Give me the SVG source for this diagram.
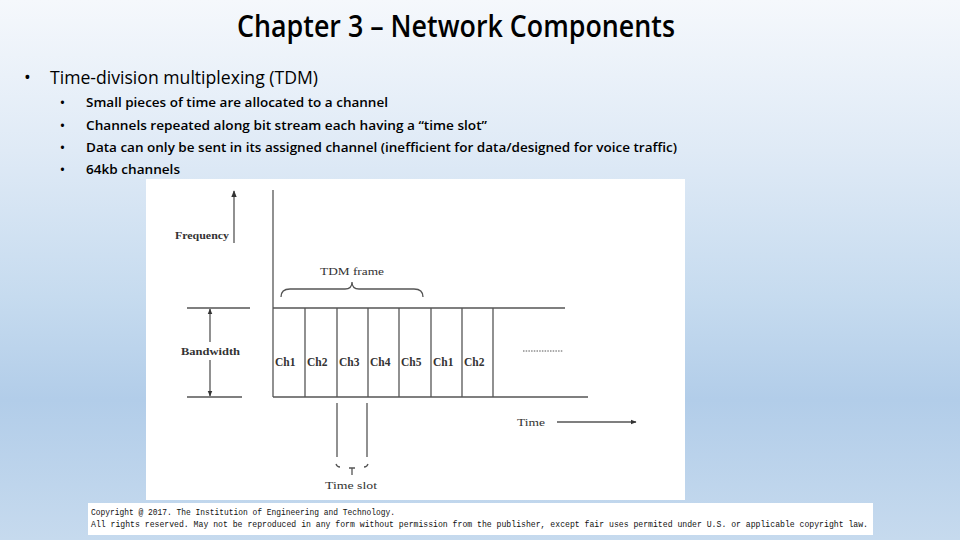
<svg xmlns="http://www.w3.org/2000/svg" width="960" height="540" viewBox="0 0 960 540">
<defs>
<linearGradient id="bg" x1="0" y1="0" x2="0" y2="1">
<stop offset="0" stop-color="#f5f8fc"/>
<stop offset="0.28" stop-color="#dfeaf6"/>
<stop offset="0.55" stop-color="#c6dbef"/>
<stop offset="0.74" stop-color="#b2cde9"/>
<stop offset="1" stop-color="#c6daee"/>
</linearGradient>
<marker id="ah" viewBox="0 0 10 10" refX="9" refY="5" markerWidth="7" markerHeight="7" markerUnits="userSpaceOnUse" orient="auto-start-reverse">
<path d="M0,1 L10,5 L0,9 z" fill="#333"/>
</marker>
<marker id="ahs" viewBox="0 0 10 10" refX="9" refY="5" markerWidth="6" markerHeight="6" markerUnits="userSpaceOnUse" orient="auto-start-reverse">
<path d="M0,1 L10,5 L0,9 z" fill="#333"/>
</marker>
<style>
.title{font-family:"Open Sans","Noto Sans",sans-serif;font-weight:600;font-size:30px;fill:#000}
.b1{font-family:"Open Sans","Noto Sans",sans-serif;font-size:18px;fill:#000}
.b2{font-family:"Open Sans","Noto Sans",sans-serif;font-weight:600;font-size:13px;fill:#000}
.lbl{font-family:"Liberation Serif","Times New Roman",serif;font-weight:bold;fill:#333}
.lbn{font-family:"Liberation Serif","Times New Roman",serif;font-weight:normal;fill:#333}
.ln{stroke:#555;stroke-width:1.3;fill:none}
.mono{font-family:"Liberation Mono","DejaVu Sans Mono",monospace;font-size:9px;fill:#111}
</style>
</defs>
<rect width="960" height="540" fill="url(#bg)"/>
<text class="title" x="456" y="37" text-anchor="middle" textLength="438" lengthAdjust="spacingAndGlyphs">Chapter 3 – Network Components</text>
<g id="bullets">
<text class="b1" x="24" y="84">•</text>
<text class="b1" x="50" y="84" textLength="268" lengthAdjust="spacingAndGlyphs">Time-division multiplexing (TDM)</text>
<text class="b2" x="60" y="107">•</text>
<text class="b2" x="86" y="107" textLength="302" lengthAdjust="spacingAndGlyphs">Small pieces of time are allocated to a channel</text>
<text class="b2" x="60" y="130">•</text>
<text class="b2" x="86" y="130" textLength="401" lengthAdjust="spacingAndGlyphs">Channels repeated along bit stream each having a “time slot”</text>
<text class="b2" x="60" y="152">•</text>
<text class="b2" x="86" y="152" textLength="591" lengthAdjust="spacingAndGlyphs">Data can only be sent in its assigned channel (inefficient for data/designed for voice traffic)</text>
<text class="b2" x="60" y="174">•</text>
<text class="b2" x="86" y="174" textLength="94" lengthAdjust="spacingAndGlyphs">64kb channels</text>
</g>
<g id="figure">
<rect x="146" y="179" width="539" height="321" fill="#fff"/>
<g id="frequency">
<line class="ln" x1="234" y1="243" x2="234" y2="191" marker-end="url(#ah)"/>
<text class="lbl" x="229" y="239" font-size="10.5" text-anchor="end" textLength="54" lengthAdjust="spacingAndGlyphs">Frequency</text>
</g>
<g id="bandwidth">
<line class="ln" x1="187" y1="308" x2="250" y2="308" stroke-width="1"/>
<line class="ln" x1="187" y1="397" x2="242" y2="397" stroke-width="1"/>
<line class="ln" x1="210" y1="342" x2="210" y2="309" stroke-width="1" marker-end="url(#ahs)"/>
<line class="ln" x1="210" y1="360" x2="210" y2="396" stroke-width="1" marker-end="url(#ahs)"/>
<text class="lbl" x="181" y="355" font-size="10.5" textLength="59" lengthAdjust="spacingAndGlyphs">Bandwidth</text>
</g>
<g id="tdm-frame">
<path class="ln" stroke-width="1" d="M281,297 Q281,289 290,289 L345,289 Q352,289 352,282 Q352,289 359,289 L414,289 Q423,289 423,297"/>
<text class="lbn" x="320" y="275" font-size="11" textLength="64" lengthAdjust="spacingAndGlyphs">TDM frame</text>
</g>
<g id="channels">
<line class="ln" x1="273" y1="190" x2="273" y2="397"/>
<line class="ln" x1="273" y1="308" x2="565" y2="308" stroke-width="1"/>
<line class="ln" x1="273" y1="397" x2="588" y2="397"/>
<line class="ln" x1="305" y1="308" x2="305" y2="397" stroke="#888"/>
<line class="ln" x1="337" y1="308" x2="337" y2="397"/>
<line class="ln" x1="368" y1="308" x2="368" y2="397"/>
<line class="ln" x1="399" y1="308" x2="399" y2="397"/>
<line class="ln" x1="431" y1="308" x2="431" y2="397"/>
<line class="ln" x1="462" y1="308" x2="462" y2="397"/>
<line class="ln" x1="493" y1="308" x2="493" y2="397"/>
<g class="lbl" font-size="11.5">
<text x="275" y="366">Ch1</text>
<text x="307" y="366">Ch2</text>
<text x="339" y="366">Ch3</text>
<text x="370" y="366">Ch4</text>
<text x="401" y="366">Ch5</text>
<text x="433" y="366">Ch1</text>
<text x="464" y="366">Ch2</text>
</g>
<line x1="523" y1="351" x2="563" y2="351" stroke="#555" stroke-width="1" stroke-dasharray="1.5,1.2"/>
</g>
<g id="time">
<text class="lbn" x="517" y="426" font-size="11" textLength="28" lengthAdjust="spacingAndGlyphs">Time</text>
<line class="ln" stroke-width="1" x1="557" y1="422" x2="636" y2="422" marker-end="url(#ahs)"/>
</g>
<g id="time-slot">
<line class="ln" stroke-width="1" x1="337" y1="403" x2="337" y2="457"/>
<line class="ln" stroke-width="1" x1="367" y1="403" x2="367" y2="457"/>
<path class="ln" stroke-width="1" d="M336,464 Q337,467 340,467 M368,464 Q367,467 364,467 M352,468 L352,475 M349,468 L355,468"/>
<text class="lbn" x="325" y="489" font-size="11" textLength="52" lengthAdjust="spacingAndGlyphs">Time slot</text>
</g>
</g>
<g id="copyright">
<rect x="88" y="503" width="785" height="32" fill="#fff"/>
<text class="mono" x="91" y="515" textLength="304" lengthAdjust="spacingAndGlyphs">Copyright @ 2017. The Institution of Engineering and Technology.</text>
<text class="mono" x="91" y="527" textLength="777" lengthAdjust="spacingAndGlyphs">All rights reserved. May not be reproduced in any form without permission from the publisher, except fair uses permited under U.S. or applicable copyright law.</text>
</g>
</svg>
